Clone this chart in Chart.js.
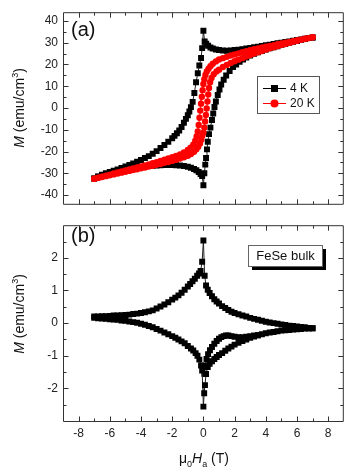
<!DOCTYPE html>
<html>
<head>
<meta charset="utf-8">
<script src="https://cdn.jsdelivr.net/npm/chart.js@4"></script>
<style>
  body { margin: 0; background: #fff; }
  #wrap { position: relative; width: 348px; height: 473px; }
  canvas { position: absolute; left: 0; }
  #chartA { top: 0; }
  #chartB { top: 213px; }
</style>
</head>
<body>
<div id="wrap">
  <canvas id="chartA" width="348" height="216"></canvas>
  <canvas id="chartB" width="348" height="260"></canvas>
</div>
<script>
// tick labels
const fieldTicks = [-8, -6, -4, -2, 0, 2, 4, 6, 8];
const momentTicksA = [-40, -30, -20, -10, 0, 10, 20, 30, 40];
const momentTicksB = [-2, -1, 0, 1, 2];

// (a) 4 K, field going down 7 -> -7
const a4kDownH = [7, 6.75, 6.5, 6.25, 6, 5.75, 5.5, 5.25, 5, 4.75, 4.5, 4.25, 4, 3.75, 3.5, 3.25, 3, 2.75, 2.5, 2.25, 2,
  1.75, 1.5, 1.25, 1, 0.8, 0.6, 0.45, 0.3, 0.18, 0.08, 0,
  -0.08, -0.15, -0.26, -0.36, -0.47, -0.58, -0.69, -0.8, -0.9, -1, -1.12, -1.25, -1.4, -1.55, -1.7, -1.85,
  -2, -2.25, -2.5, -2.75, -3, -3.25, -3.5, -3.75, -4, -4.25, -4.5, -4.75, -5, -5.25, -5.5, -5.75, -6, -6.25, -6.5, -6.75, -7];
const a4kDownM = [32.4, 32.1, 31.8, 31.5, 31.2, 30.9, 30.6, 30.3, 30.0, 29.7, 29.4, 29.1, 28.8, 28.5, 28.2, 27.9, 27.6, 27.3, 27.0, 26.8, 26.6,
  26.4, 26.3, 26.4, 26.6, 26.9, 27.3, 27.8, 28.6, 29.5, 30.5, 35.5,
  27.5, 23.0, 19.5, 16.0, 11.8, 6.9, 2.8, 0.4, -1.6, -3.3, -5.0, -6.8, -8.7, -10.3, -11.6, -12.8,
  -13.9, -15.5, -17.0, -18.4, -19.8, -21.0, -22.1, -23.0, -23.9, -24.7, -25.5, -26.2, -26.9, -27.6, -28.2, -28.8, -29.4, -30.0, -30.7, -31.5, -32.4];

// (a) 4 K, field going up -7 -> 7
const a4kUpH = [-7, -6.75, -6.5, -6.25, -6, -5.75, -5.5, -5.25, -5, -4.75, -4.5, -4.25, -4, -3.75, -3.5, -3.25, -3, -2.75, -2.5, -2.25, -2,
  -1.75, -1.5, -1.25, -1, -0.8, -0.6, -0.45, -0.3, -0.18, -0.08, 0,
  0.06, 0.12, 0.17, 0.23, 0.28, 0.36, 0.45, 0.55, 0.63, 0.71, 0.8, 0.92, 1.03, 1.14, 1.3, 1.46, 1.68, 1.9, 2.1, 2.32, 2.54,
  2.75, 3, 3.25, 3.5, 3.75, 4, 4.25, 4.5, 4.75, 5, 5.25, 5.5, 5.75, 6, 6.25, 6.5, 6.75, 7];
const a4kUpM = [-32.4, -31.6, -30.9, -30.3, -29.8, -29.3, -28.9, -28.5, -28.2, -27.9, -27.6, -27.3, -27.1, -26.9, -26.7, -26.5, -26.4, -26.3, -26.2, -26.2, -26.2,
  -26.3, -26.4, -26.6, -27.0, -27.4, -28.0, -28.6, -29.4, -30.3, -31.3, -35.5,
  -30.0, -26.0, -23.0, -19.0, -15.5, -12.0, -9.0, -5.5, -2.5, 0.5, 3.0, 6.0, 8.5, 10.8, 13.0, 14.9, 17.0, 18.8, 20.0, 21.2, 22.3,
  23.2, 24.1, 24.9, 25.6, 26.2, 26.8, 27.4, 27.9, 28.4, 28.9, 29.4, 29.9, 30.4, 30.8, 31.3, 31.7, 32.1, 32.4];

// (a) 20 K, down
const a20kDownH = [7, 6.75, 6.5, 6.25, 6, 5.75, 5.5, 5.25, 5, 4.75, 4.5, 4.25, 4, 3.75, 3.5, 3.25, 3, 2.75, 2.5, 2.25, 2,
  1.75, 1.5, 1.25, 1, 0.8, 0.6, 0.45, 0.33, 0.22, 0.13, 0.06, 0,
  -0.05, -0.1, -0.15, -0.2, -0.25, -0.3, -0.36, -0.43, -0.52, -0.65, -0.82, -1, -1.25, -1.5, -1.75,
  -2, -2.25, -2.5, -2.75, -3, -3.25, -3.5, -3.75, -4, -4.25, -4.5, -4.75, -5, -5.25, -5.5, -5.75, -6, -6.25, -6.5, -6.75, -7];
const a20kDownM = [32.5, 32.1, 31.8, 31.4, 31.0, 30.7, 30.3, 30.0, 29.6, 29.3, 28.9, 28.5, 28.2, 27.8, 27.4, 27.0, 26.5, 26.1, 25.6, 25.1, 24.6,
  24.1, 23.5, 22.9, 22.3, 21.4, 20.3, 19.2, 18.0, 16.8, 15.2, 13.2, 11.0,
  8.2, 5.2, 2.0, -1.2, -4.5, -7.8, -10.8, -13.0, -15.0, -16.8, -18.2, -19.3, -20.4, -21.3, -22.0,
  -22.6, -23.2, -23.8, -24.3, -24.9, -25.4, -25.9, -26.4, -26.9, -27.3, -27.8, -28.2, -28.7, -29.1, -29.6, -30.1, -30.6, -31.1, -31.6, -32.0, -32.5];

// (a) 20 K, up
const a20kUpH = [-7, -6.75, -6.5, -6.25, -6, -5.75, -5.5, -5.25, -5, -4.75, -4.5, -4.25, -4, -3.75, -3.5, -3.25, -3, -2.75, -2.5, -2.25, -2,
  -1.75, -1.5, -1.25, -1, -0.8, -0.6, -0.45, -0.33, -0.22, -0.13, -0.06, 0,
  0.06, 0.11, 0.16, 0.21, 0.26, 0.31, 0.36, 0.43, 0.52, 0.66, 0.84, 1, 1.25, 1.5, 1.75,
  2, 2.25, 2.5, 2.75, 3, 3.25, 3.5, 3.75, 4, 4.25, 4.5, 4.75, 5, 5.25, 5.5, 5.75, 6, 6.25, 6.5, 6.75, 7];
const a20kUpM = [-32.5, -32.1, -31.7, -31.3, -30.9, -30.5, -30.1, -29.7, -29.3, -28.9, -28.5, -28.1, -27.7, -27.3, -26.9, -26.5, -26.1, -25.7, -25.2, -24.8, -24.3,
  -23.8, -23.2, -22.6, -21.9, -21.1, -20.1, -19.0, -17.8, -16.3, -14.6, -12.6, -11.3,
  -9.0, -6.2, -3.2, -0.2, 3.0, 6.2, 9.2, 11.8, 13.8, 15.5, 16.8, 17.6, 18.8, 19.8, 20.7,
  21.5, 22.2, 22.9, 23.6, 24.3, 25.0, 25.6, 26.2, 26.8, 27.4, 27.9, 28.4, 28.9, 29.4, 29.9, 30.4, 30.9, 31.3, 31.7, 32.1, 32.5];

// (b) FeSe bulk, upper branch -7 -> 7
const bUpH = [-7, -6.75, -6.5, -6.25, -6, -5.75, -5.5, -5.25, -5, -4.75, -4.5, -4.25, -4, -3.75, -3.5, -3.25, -3, -2.75, -2.5, -2.25, -2,
  -1.8, -1.6, -1.4, -1.2, -1, -0.85, -0.7, -0.55, -0.4, -0.28, -0.18, -0.08, 0,
  0.08, 0.17, 0.28, 0.4, 0.55, 0.7, 0.85, 1, 1.2, 1.4, 1.6, 1.8,
  2, 2.25, 2.5, 2.75, 3, 3.25, 3.5, 3.75, 4, 4.25, 4.5, 4.75, 5, 5.25, 5.5, 5.75, 6, 6.25, 6.5, 6.75, 7];
const bUpM = [0.2, 0.2, 0.21, 0.21, 0.22, 0.23, 0.23, 0.24, 0.25, 0.26, 0.28, 0.29, 0.31, 0.33, 0.36, 0.39, 0.45, 0.51, 0.57, 0.64, 0.72,
  0.78, 0.85, 0.93, 1.02, 1.12, 1.2, 1.28, 1.36, 1.45, 1.52, 1.6, 1.88, 2.53,
  1.45, 1.15, 1.02, 0.92, 0.82, 0.73, 0.66, 0.6, 0.52, 0.46, 0.4, 0.35,
  0.31, 0.27, 0.23, 0.2, 0.16, 0.13, 0.1, 0.07, 0.04, 0.02, 0, -0.02, -0.04, -0.06, -0.08, -0.09, -0.1, -0.12, -0.13, -0.15, -0.16];

// (b) lower branch 7 -> -7
const bDownH = [7, 6.75, 6.5, 6.25, 6, 5.75, 5.5, 5.25, 5, 4.75, 4.5, 4.25, 4, 3.75, 3.5, 3.25, 3, 2.75, 2.5, 2.25, 2,
  1.8, 1.6, 1.4, 1.2, 1, 0.85, 0.7, 0.55, 0.4, 0.28, 0.17, 0.1, 0.05, 0,
  -0.08, -0.15, -0.26, -0.38, -0.5, -0.65, -0.8, -1, -1.2, -1.4, -1.6, -1.8,
  -2, -2.25, -2.5, -2.75, -3, -3.25, -3.5, -3.75, -4, -4.25, -4.5, -4.75, -5, -5.25, -5.5, -5.75, -6, -6.25, -6.5, -6.75, -7];
const bDownM = [-0.16, -0.17, -0.17, -0.18, -0.19, -0.2, -0.21, -0.22, -0.23, -0.25, -0.27, -0.29, -0.31, -0.34, -0.37, -0.41, -0.45, -0.5, -0.55, -0.6, -0.66,
  -0.72, -0.78, -0.85, -0.92, -0.98, -1.04, -1.1, -1.17, -1.25, -1.35, -1.56, -1.9, -2.15, -2.56,
  -1.45, -1.3, -1.12, -1.0, -0.92, -0.84, -0.78, -0.7, -0.62, -0.56, -0.5, -0.45,
  -0.4, -0.34, -0.29, -0.23, -0.18, -0.13, -0.09, -0.05, -0.02, 0.01, 0.03, 0.05, 0.07, 0.08, 0.1, 0.11, 0.12, 0.13, 0.14, 0.15, 0.16];

// (b) inner curve at positive field
const bInnerH = [0.06, 0.12, 0.2, 0.3, 0.42, 0.55, 0.7, 0.85, 1, 1.15, 1.3, 1.45, 1.6, 1.8, 2, 2.25, 2.5, 2.75, 3, 3.25, 3.5];
const bInnerM = [-1.55, -1.3, -1.1, -0.95, -0.83, -0.73, -0.63, -0.55, -0.48, -0.43, -0.4, -0.38, -0.38, -0.4, -0.42, -0.43, -0.43, -0.42, -0.4, -0.38, -0.37];

const FAM = 'Arial, "Liberation Sans", sans-serif';
const frameColor = '#333';
const textColor = '#111';

function toPoints(hs, ms) {
    return hs.map((h, i) => ({ x: h, y: ms[i] }));
}

// minor ticks sit halfway between the labelled ones
function minorsOf(majors, min, max) {
    const half = (majors[1] - majors[0]) / 2;
    return [majors[0] - half, ...majors.map(v => v + half)].filter(v => v > min && v < max);
}

// mixed-font text (italics, sub/superscripts)
function drawRich(ctx, parts, x, y) {
    let w = 0;
    parts.forEach(p => { ctx.font = p.font; p.w = ctx.measureText(p.text).width; w += p.w; });
    let cx = x - w / 2;
    ctx.textAlign = 'left';
    ctx.textBaseline = 'alphabetic';
    parts.forEach(p => { ctx.font = p.font; ctx.fillText(p.text, cx, y + (p.dy || 0)); cx += p.w; });
}

const yTitle = [
    { text: 'M', font: `italic 14px ${FAM}` },
    { text: ' (emu/cm', font: `14px ${FAM}` },
    { text: '3', font: `9px ${FAM}`, dy: -6 },
    { text: ')', font: `14px ${FAM}` }
];
const xTitle = [
    { text: 'μ', font: `14px ${FAM}` },
    { text: '0', font: `9px ${FAM}`, dy: 4 },
    { text: 'H', font: `italic 14px ${FAM}` },
    { text: 'a', font: `9px ${FAM}`, dy: 4 },
    { text: ' (T)', font: `14px ${FAM}` }
];

// frame, inward ticks, panel tag, titles, legend
function decor(cfg) {
    return {
        id: 'decor',
        afterDraw(chart) {
            const { ctx, chartArea: a } = chart;
            const xs = chart.scales.x, ys = chart.scales.y;
            const L = a.left + 0.5, R = a.right - 0.5, T = a.top + 0.5, B = a.bottom + 0.5;
            ctx.save();
            ctx.strokeStyle = frameColor;
            ctx.lineWidth = 1;
            ctx.beginPath();
            ctx.rect(L, T, R - L, B - T);
            const vTick = (v, len) => {
                const px = Math.round(xs.getPixelForValue(v)) + 0.5;
                ctx.moveTo(px, B); ctx.lineTo(px, B - len);
                ctx.moveTo(px, T); ctx.lineTo(px, T + len);
            };
            const hTick = (v, len) => {
                const py = Math.round(ys.getPixelForValue(v)) + 0.5;
                ctx.moveTo(L, py); ctx.lineTo(L + len, py);
                ctx.moveTo(R, py); ctx.lineTo(R - len, py);
            };
            fieldTicks.forEach(v => vTick(v, 5));
            minorsOf(fieldTicks, xs.min, xs.max).forEach(v => vTick(v, 3));
            cfg.yTicks.forEach(v => hTick(v, 5));
            minorsOf(cfg.yTicks, ys.min, ys.max).forEach(v => hTick(v, 3));
            ctx.stroke();

            ctx.fillStyle = textColor;
            ctx.font = `20px ${FAM}`;
            ctx.textAlign = 'left';
            ctx.textBaseline = 'alphabetic';
            ctx.fillText(cfg.tag, 71, cfg.tagY);

            ctx.save();
            ctx.translate(24, cfg.titleY);
            ctx.rotate(-Math.PI / 2);
            drawRich(ctx, yTitle, 0, 0);
            ctx.restore();

            if (cfg.xTitle) drawRich(ctx, xTitle, 204, 250);

            if (cfg.legend) {
                ctx.fillStyle = '#fff';
                ctx.fillRect(257, 76, 62, 37);
                ctx.strokeStyle = '#555';
                ctx.strokeRect(257.5, 76.5, 62, 37);
                cfg.legend.forEach((item, i) => {
                    const ly = 88.5 + i * 15;
                    ctx.strokeStyle = item.color;
                    ctx.beginPath(); ctx.moveTo(263, ly); ctx.lineTo(286, ly); ctx.stroke();
                    ctx.fillStyle = item.color;
                    if (item.square) ctx.fillRect(271, ly - 3.5, 7, 7);
                    else { ctx.beginPath(); ctx.arc(274.5, ly, 4, 0, Math.PI * 2); ctx.fill(); }
                    ctx.fillStyle = textColor;
                    ctx.font = `12px ${FAM}`;
                    ctx.textBaseline = 'middle';
                    ctx.fillText(item.label, 290, ly + 0.5);
                });
            }

            if (cfg.box) {
                ctx.fillStyle = '#000';
                ctx.fillRect(252, 36, 74, 21);
                ctx.fillStyle = '#fff';
                ctx.fillRect(248, 32, 74, 21);
                ctx.strokeStyle = '#666';
                ctx.strokeRect(248.5, 32.5, 74, 21);
                ctx.fillStyle = textColor;
                ctx.font = `13px ${FAM}`;
                ctx.textAlign = 'center';
                ctx.textBaseline = 'middle';
                ctx.fillText(cfg.box, 285.5, 43.5);
            }
            ctx.restore();
        }
    };
}

function series(label, points, color, square, order) {
    return {
        label: label,
        data: points,
        showLine: true,
        borderColor: color === '#000' ? '#222' : color,
        borderWidth: 1,
        backgroundColor: color,
        pointBackgroundColor: color,
        pointStyle: square ? 'rect' : 'circle',
        pointRadius: square ? 4.2 : 3.2,
        pointBorderWidth: 0,
        order: order
    };
}

function yAxis(min, max, ticks) {
    return {
        min: min, max: max,
        afterBuildTicks: s => { s.ticks = ticks.map(v => ({ value: v })); },
        afterFit: s => { s.width = 63; },
        ticks: { font: { family: FAM, size: 12 }, color: '#222', padding: 5 },
        grid: { display: false, drawTicks: false },
        border: { display: false }
    };
}

const common = {
    responsive: false,
    animation: false,
    devicePixelRatio: 1,
    events: [],
    plugins: { legend: { display: false }, tooltip: { enabled: false } }
};

// (a)
new Chart(document.getElementById('chartA'), {
    type: 'scatter',
    data: {
        datasets: [
            series('20 K', toPoints(a20kDownH, a20kDownM).concat(toPoints(a20kUpH, a20kUpM)), '#ff0000', false, 0),
            series('4 K', toPoints(a4kDownH, a4kDownM).concat(toPoints(a4kUpH, a4kUpM)), '#000', true, 1)
        ]
    },
    options: {
        ...common,
        layout: { padding: { top: 4, right: 4, left: 0, bottom: 0 } },
        scales: {
            x: {
                type: 'linear', min: -9, max: 9,
                ticks: { display: false }, grid: { display: false }, border: { display: false },
                afterFit: s => { s.height = 3; }
            },
            y: yAxis(-44, 44, momentTicksA)
        }
    },
    plugins: [decor({
        yTicks: momentTicksA, tag: '(a)', tagY: 35.5, titleY: 108,
        legend: [{ label: '4 K', color: '#000', square: true }, { label: '20 K', color: '#ff0000', square: false }]
    })]
});

// (b)
new Chart(document.getElementById('chartB'), {
    type: 'scatter',
    data: {
        datasets: [
            series('up', toPoints(bUpH, bUpM), '#000', true, 0),
            series('down', toPoints(bDownH, bDownM), '#000', true, 1),
            series('inner', toPoints(bInnerH, bInnerM), '#000', true, 2)
        ]
    },
    options: {
        ...common,
        layout: { padding: { top: 0, right: 4, left: 0, bottom: 0 } },
        scales: {
            x: {
                type: 'linear', min: -9, max: 9,
                afterBuildTicks: s => { s.ticks = fieldTicks.map(v => ({ value: v })); },
                afterFit: s => { s.height = 52; },
                ticks: { font: { family: FAM, size: 12 }, color: '#222', padding: 5, maxRotation: 0 },
                grid: { display: false, drawTicks: false },
                border: { display: false }
            },
            y: yAxis(-3, 3, momentTicksB)
        }
    },
    plugins: [decor({ yTicks: momentTicksB, tag: '(b)', tagY: 29, titleY: 101, xTitle: true, box: 'FeSe bulk' })]
});
</script>
</body>
</html>
